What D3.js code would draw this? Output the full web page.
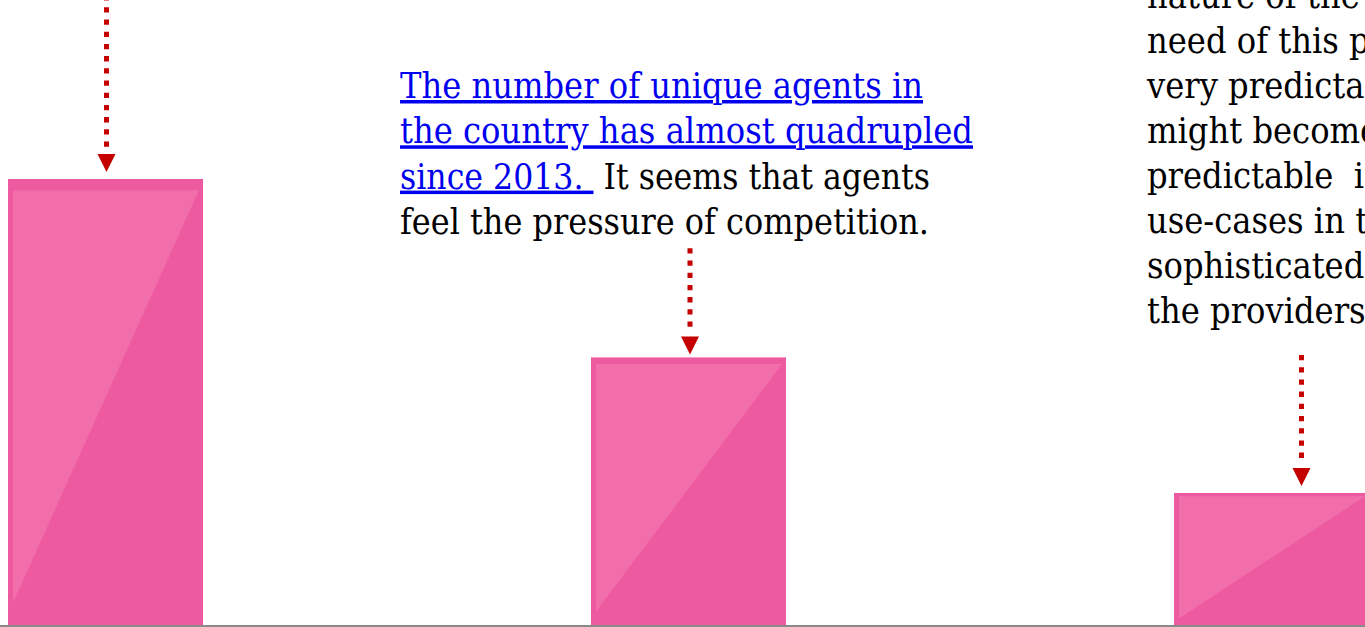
<!DOCTYPE html>
<html>
<head>
<meta charset="utf-8">
<script src="https://cdn.jsdelivr.net/npm/d3@7"></script>
<style>
  html, body { margin: 0; padding: 0; background: #fff; overflow: hidden; }
  svg { display: block; }
  text { font-family: "DejaVu Serif", Georgia, serif; white-space: pre; }
</style>
</head>
<body>
<svg id="chart" width="1365" height="627"></svg>
<script>
// Bar chart data
const categories = ["first", "second", "third"];
const values = [100, 60, 29.6];

// Annotation arrows: which bar, horizontal nudge, start of the dotted stem, gap above the bar
const arrowBars = [0, 1, 2];
const arrowNudge = [1, 1.5, 30];
const arrowStart = [-4.9, 248.3, 355];
const arrowGap = [7, 3, 7];

// Middle annotation: lines split into linked (blue, underlined) and plain parts
const noteLinked = ["The number of unique agents in", "the country has almost quadrupled", "since 2013. ", ""];
const notePlain = ["", "", " It seems that agents", "feel the pressure of competition."];
const noteWidths = [523, 573, 530, 529];

// Right annotation lines (run past the right edge)
const sideLines = [
  "nature of the need",
  "need of this product is",
  "very predictable. That",
  "might become less",
  "predictable  in the future as",
  "use-cases in the market",
  "sophisticated and more of",
  "the providers step in."
];

const W = 1365, H = 627;
const baseY = 625;
const svg = d3.select("#chart");

const x = d3.scaleBand()
  .domain(categories)
  .range([-186, -186 + 3 * 583])
  .paddingInner(1 - 195 / 583)
  .paddingOuter((1 - 195 / 583) / 2);

const y = d3.scaleLinear().domain([0, 100]).range([baseY, 179]);

const barFill = "#ee5aa0";
const glossFill = "#f16eab";

// bars
const bars = svg.append("g").selectAll("g")
  .data(categories.map((c, i) => ({ c, v: values[i] })))
  .join("g");

bars.append("rect")
  .attr("x", d => x(d.c))
  .attr("y", d => y(d.v))
  .attr("width", x.bandwidth())
  .attr("height", d => baseY - y(d.v))
  .attr("fill", barFill);

// lighter gloss wedge over each bar
bars.append("path")
  .attr("fill", glossFill)
  .attr("d", d => {
    const x0 = x(d.c), x1 = x0 + x.bandwidth();
    const top = y(d.v), h = baseY - top;
    const l = x0 + 5, r = x1 - 4, t = top + 0.025 * h, b = baseY - 0.05 * h;
    return `M${l},${t}L${r},${t}L${l},${b}Z`;
  });

// baseline
svg.append("line")
  .attr("x1", 0).attr("x2", W)
  .attr("y1", baseY + 1).attr("y2", baseY + 1)
  .attr("stroke", "#8a8a8a").attr("stroke-width", 2);

// dotted arrows
const red = "#c40000";
const arrows = svg.append("g");
arrowBars.forEach((bi, i) => {
  const c = categories[bi];
  const cx = x(c) + x.bandwidth() / 2 + arrowNudge[i];
  const tip = y(values[bi]) - arrowGap[i];
  const headTop = tip - 20;
  arrows.append("line")
    .attr("x1", cx).attr("x2", cx)
    .attr("y1", arrowStart[i]).attr("y2", headTop - 2)
    .attr("stroke", red).attr("stroke-width", 5)
    .attr("stroke-dasharray", "5.3,6.9");
  arrows.append("path")
    .attr("fill", red)
    .attr("d", `M${cx - 9},${headTop + 2}L${cx + 9},${headTop + 2}L${cx},${tip}Z`);
});

// text sizing: width-fitted size for spacing, taller display size for glyphs
const displaySize = 35;
const probe = svg.append("text").attr("font-size", 36).text(noteLinked[1]);
const fitSize = 36 * 573 / probe.node().getComputedTextLength();
probe.remove();

function naturalWidth(str) {
  const t = svg.append("text").attr("font-size", fitSize).text(str);
  const w = t.node().getComputedTextLength();
  t.remove();
  return w;
}

// middle note
const noteX = 400, noteY0 = 98, lineH = 45.3;
const note = svg.append("g").attr("font-size", displaySize);
noteLinked.forEach((lk, i) => {
  const t = note.append("text")
    .attr("x", noteX)
    .attr("y", noteY0 + i * lineH)
    .attr("textLength", noteWidths[i])
    .attr("lengthAdjust", "spacingAndGlyphs");
  if (lk) t.append("tspan").attr("fill", "#0000ee").style("text-decoration", "underline").text(lk);
  if (notePlain[i]) t.append("tspan").attr("fill", "#000").text(notePlain[i]);
});

// right note
const side = svg.append("g").attr("font-size", displaySize).attr("fill", "#000");
side.selectAll("text")
  .data(sideLines)
  .join("text")
  .attr("x", 1147)
  .attr("y", (d, i) => 8 + i * 45)
  .attr("textLength", d => naturalWidth(d))
  .attr("lengthAdjust", "spacingAndGlyphs")
  .text(d => d);
</script>
</body>
</html>
